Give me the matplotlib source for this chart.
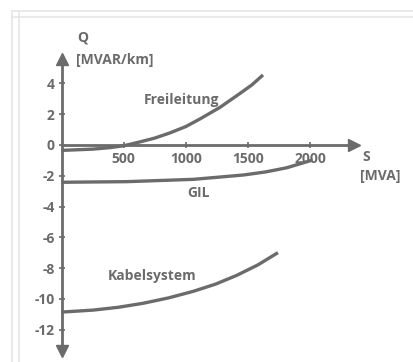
import matplotlib
matplotlib.use("Agg")
import matplotlib.pyplot as plt
from matplotlib.lines import Line2D

plt.rcParams['font.family'] = ['Open Sans', 'DejaVu Sans']
plt.rcParams['axes.unicode_minus'] = False

# Data
S_frei = [0, 250, 390, 500, 630, 750, 870, 1000, 1115, 1275, 1435, 1530, 1620]
Q_frei = [-0.35, -0.27, -0.17, -0.05, 0.2, 0.45, 0.78, 1.2, 1.7, 2.45, 3.35, 3.9, 4.55]
S_gil = [0, 527, 1060, 1460, 1640, 1810, 2020]
Q_gil = [-2.42, -2.38, -2.23, -1.95, -1.75, -1.48, -0.97]
S_kab = [0, 255, 455, 655, 860, 1060, 1240, 1410, 1580, 1740]
Q_kab = [-10.85, -10.72, -10.54, -10.28, -9.93, -9.5, -9.03, -8.46, -7.78, -6.99]

x_ticks = [500, 1000, 1500, 2000]
y_ticks = [-12, -10, -8, -6, -4, -2, 0, 2, 4]

W, H = 413, 362
fig = plt.figure(figsize=(W / 100, H / 100), dpi=100)
fig.patch.set_facecolor('white')

# faint frame
for x in (12, 19):
    fig.add_artist(Line2D([x / W, x / W], [0, 1 - 11 / H], color='#e6e6e6', lw=1.2, transform=fig.transFigure))
for y in (11, 17):
    fig.add_artist(Line2D([12 / W, 1], [1 - y / H, 1 - y / H], color='#e6e6e6', lw=1.2, transform=fig.transFigure))

ax = fig.add_axes([0, 0, 1, 1])
ax.patch.set_alpha(0)
x0, sx = 61.5, 0.1244
y0, sy = 145, 15.4
ax.set_xlim(-x0 / sx, (W - x0) / sx)
ax.set_ylim(-(H - y0) / sy, y0 / sy)

c = '#6b6b6b'
for s in ('top', 'right'):
    ax.spines[s].set_visible(False)
ax.spines['left'].set_position(('data', 0))
ax.spines['bottom'].set_position(('data', 0))
ax.spines['left'].set_bounds(-13.3, 5.5)
ax.spines['bottom'].set_bounds(0, 2330)
for s in ('left', 'bottom'):
    ax.spines[s].set_color(c)
    ax.spines[s].set_linewidth(2.0)

ax.plot([2350], [0], marker='>', color=c, markersize=8, clip_on=False)
ax.plot([0], [5.6], marker='^', color=c, markersize=8, clip_on=False)
ax.plot([0], [-13.4], marker='v', color=c, markersize=8, clip_on=False)

ax.set_xticks(x_ticks)
ax.set_xticklabels([str(v) for v in x_ticks])
ax.set_yticks(y_ticks)
ax.set_yticklabels([str(v) for v in y_ticks])
ax.tick_params(axis='both', direction='inout', length=4, width=1.2, color=c,
               labelcolor=c, labelsize=10)
ax.tick_params(axis='x', pad=3)
ax.tick_params(axis='y', pad=3)
for lab in ax.get_xticklabels() + ax.get_yticklabels():
    lab.set_fontweight('bold')

lw = 2.4
ax.plot(S_frei, Q_frei, color=c, lw=lw, solid_capstyle='butt')
ax.plot(S_gil, Q_gil, color=c, lw=lw, solid_capstyle='butt')
ax.plot(S_kab, Q_kab, color=c, lw=lw, solid_capstyle='butt')

tk = dict(color=c, fontsize=10, fontweight='bold')
ax.text(173, 7.0, 'Q', ha='center', va='center', **tk)
ax.text(115, 5.5, '[MVAR/km]', ha='left', va='center', **tk)
ax.text(2420, -0.8, 'S', ha='left', va='center', **tk)
ax.text(2400, -2.0, '[MVA]', ha='left', va='center', **tk)
ax.text(660, 2.9, 'Freileitung', ha='left', va='center', **tk)
ax.text(1100, -3.1, 'GIL', ha='center', va='center', **tk)
ax.text(370, -8.5, 'Kabelsystem', ha='left', va='center', **tk)

fig.savefig('out.png', dpi=100)
